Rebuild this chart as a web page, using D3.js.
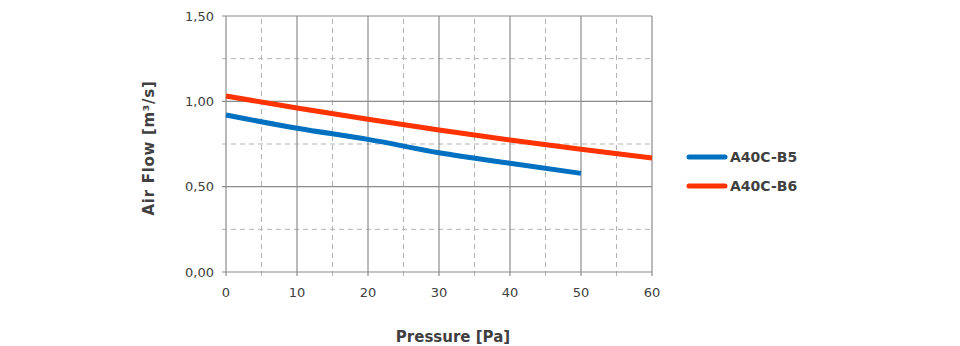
<!DOCTYPE html>
<html><head><meta charset="utf-8">
<script src="https://cdn.jsdelivr.net/npm/d3@7/dist/d3.min.js"></script>
<style>body{margin:0;background:#fff;} text{font-family:"DejaVu Sans",Verdana,sans-serif;fill:#404040;}</style>
</head><body><svg id="c" width="960" height="346"></svg>
<script>
const pressure = [0, 10, 20, 30, 40, 50, 60];
const seriesNames = ["A40C-B5", "A40C-B6"];
const b5 = [0.920, 0.842, 0.777, 0.699, 0.637, 0.578];
const b6 = [1.031, 0.961, 0.895, 0.832, 0.773, 0.719, 0.668];
const seriesColors = ["#0070C0", "#FF3300"];
const xTicks = [0, 10, 20, 30, 40, 50, 60];
const yTicks = [0, 0.5, 1.0, 1.5];

const svg = d3.select("#c");
const x = d3.scaleLinear().domain([0, 60]).range([226, 652]);
const y = d3.scaleLinear().domain([0, 1.5]).range([272, 16]);
const fmt = v => d3.format(".2f")(v).replace(".", ",");

// minor dashed grid
const minorX = d3.range(5, 60, 10), minorY = [0.25, 0.75, 1.25];
svg.append("g").selectAll("line").data(minorX).join("line")
  .attr("x1", d => x(d)).attr("x2", d => x(d)).attr("y1", y(0) + 4).attr("y2", y(1.5))
  .attr("stroke", "#b3b3b3").attr("stroke-dasharray", "5,4");
svg.append("g").selectAll("line").data(minorY).join("line")
  .attr("x1", x(0) - 4).attr("x2", x(60)).attr("y1", d => y(d)).attr("y2", d => y(d))
  .attr("stroke", "#b3b3b3").attr("stroke-dasharray", "5,4");
// major grid
svg.append("g").selectAll("line").data(xTicks).join("line")
  .attr("x1", d => x(d)).attr("x2", d => x(d)).attr("y1", y(0) + 4).attr("y2", y(1.5))
  .attr("stroke", "#8c8c8c").attr("stroke-width", 1.2);
svg.append("g").selectAll("line").data(yTicks).join("line")
  .attr("x1", x(0) - 4).attr("x2", x(60)).attr("y1", d => y(d)).attr("y2", d => y(d))
  .attr("stroke", "#8c8c8c").attr("stroke-width", 1.2);

// tick labels
svg.append("g").selectAll("text").data(yTicks).join("text")
  .attr("x", 214).attr("y", d => y(d)).attr("dy", "0.35em").attr("text-anchor", "end")
  .attr("font-size", 13).text(fmt);
svg.append("g").selectAll("text").data(xTicks).join("text")
  .attr("x", d => x(d)).attr("y", 297).attr("text-anchor", "middle")
  .attr("font-size", 13).text(d => d);

// axis titles
svg.append("text").attr("transform", "translate(154,148) rotate(-90)")
  .attr("text-anchor", "middle").attr("font-size", 15).attr("font-weight", "bold")
  .attr("letter-spacing", 0.7).text("Air Flow [m³/s]");
svg.append("text").attr("x", 453).attr("y", 342).attr("text-anchor", "middle")
  .attr("font-size", 15).attr("font-weight", "bold").text("Pressure [Pa]");

// lines
const line = d3.line().x((d, i) => x(pressure[i])).y(d => y(d)).curve(d3.curveMonotoneX);
[b5, b6].forEach((s, k) => {
  svg.append("path").attr("d", line(s)).attr("fill", "none")
    .attr("stroke", seriesColors[k]).attr("stroke-width", 5);
});

// legend
const lg = svg.append("g");
seriesNames.forEach((n, k) => {
  const yy = 157 + k * 29;
  lg.append("line").attr("x1", 689).attr("x2", 725).attr("y1", yy).attr("y2", yy)
    .attr("stroke", seriesColors[k]).attr("stroke-width", 5).attr("stroke-linecap", "round");
  lg.append("text").attr("x", 730).attr("y", yy).attr("dy", "0.35em")
    .attr("font-size", 14).attr("font-weight", "bold").text(n);
});
</script></body></html>
